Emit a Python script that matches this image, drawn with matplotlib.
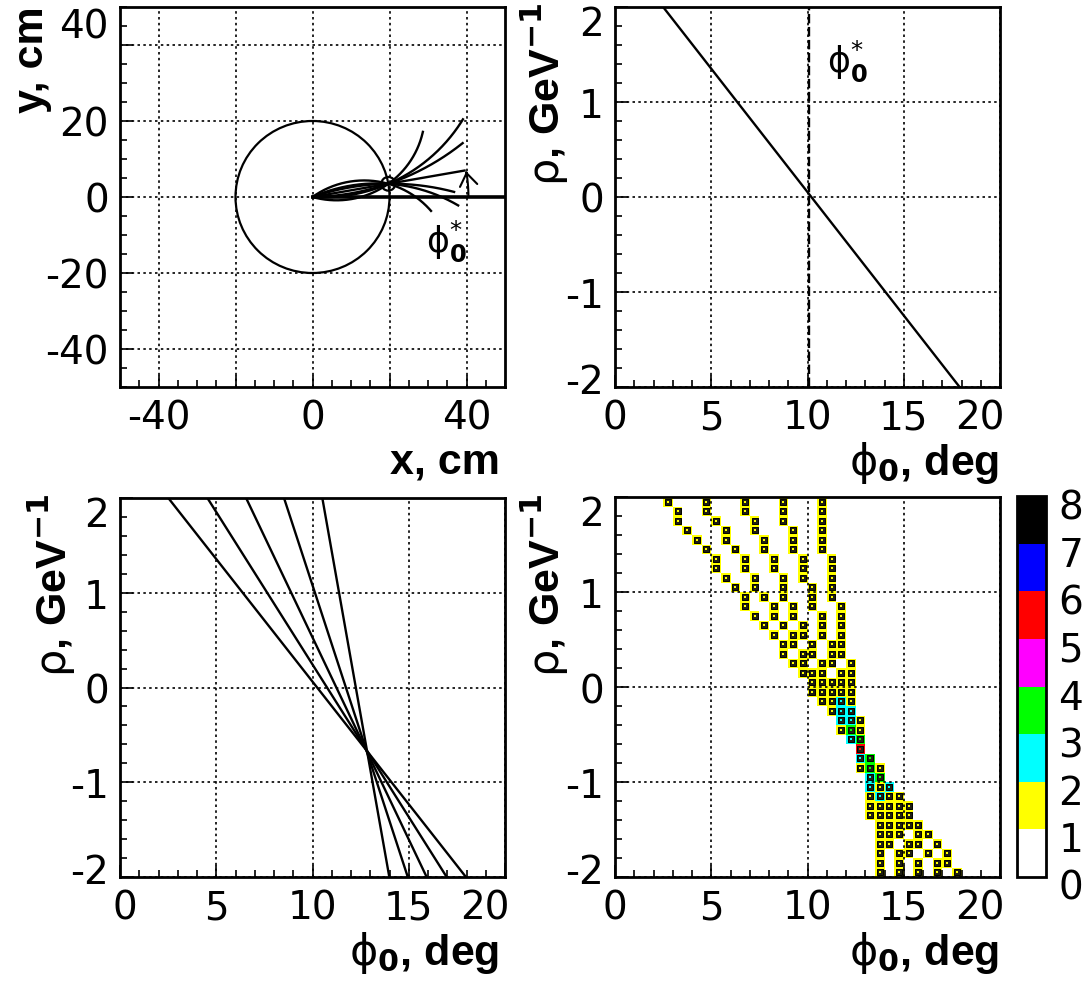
import numpy as np
import matplotlib
matplotlib.use("Agg")
import matplotlib.pyplot as plt
from matplotlib.colors import ListedColormap, BoundaryNorm
from matplotlib.transforms import ScaledTranslation
from matplotlib.patches import Circle, FancyArrowPatch
from matplotlib.path import Path

# ------------------------------------------------------------------ data
# top-left: tracks crossing a single hit on the detector layer
hit_radius = 20.0            # cm
hit_phi = 10.0               # deg (phi0*)
track_curvature = [0.0436, 0.0235, 0.0157, 0.0, -0.0160, -0.0243, -0.0438]   # 1/cm
track_end_radius = [33.4, 44.1, 41.5, 40.1, 36.8, 37.9, 31.0]                # cm

# top-right: Hough line of that hit
tr_rho = [2.0, -2.0]
tr_phi0 = [2.5, 17.9]
tr_phi_star = 10.1

# bottom-left: Hough lines of five hits
bl_phi0_top = [2.51, 4.54, 6.55, 8.52, 10.51]          # at rho = +2
bl_phi0_bottom = [17.97, 16.97, 15.93, 14.95, 13.99]   # at rho = -2
bl_rho_ends = [2.0, -2.0]

# bottom-right: Hough accumulator; for each rho row (top row first) the
# phi0-bin indices that were filled (a repeated index = several entries)
phi0_edges = np.linspace(0, 20, 41)
rho_edges = np.linspace(-2, 2, 41)
hough_rows = [
    [5, 9, 13, 17, 21], [6, 9, 13, 17, 21], [6, 10, 14, 17, 21], [7, 11, 14, 18, 21],
    [8, 11, 15, 18, 21], [9, 12, 15, 18, 21], [10, 13, 16, 19, 22], [10, 13, 16, 19, 22],
    [11, 14, 17, 19, 22], [12, 14, 17, 20, 22], [13, 15, 17, 20, 22], [13, 16, 18, 20, 23],
    [14, 16, 18, 21, 23], [15, 17, 19, 21, 23], [16, 18, 19, 21, 23], [17, 18, 20, 22, 23],
    [17, 19, 20, 22, 23], [18, 19, 21, 22, 24], [19, 20, 21, 23, 24], [20, 21, 22, 23, 24],
    [20, 21, 22, 23, 24], [21, 22, 23, 23, 24], [22, 23, 23, 24, 24], [23, 23, 24, 24, 25],
    [23, 24, 24, 24, 25], [24, 24, 25, 25, 25], [25, 25, 25, 25, 25], [25, 25, 26, 26, 26],
    [25, 26, 26, 26, 27], [26, 26, 27, 27, 27], [26, 26, 27, 28, 28], [26, 27, 27, 28, 29],
    [26, 27, 28, 29, 30], [26, 27, 28, 29, 30], [27, 28, 29, 30, 31], [27, 28, 29, 31, 32],
    [27, 28, 30, 31, 33], [27, 29, 30, 32, 34], [27, 29, 31, 33, 34], [27, 29, 31, 33, 35],
]
count_levels = list(range(9))
level_colors = ["white", "#ffff00", "#00ffff", "#00ff00", "#ff00ff", "#ff0000", "#0000ff", "black"]

# ------------------------------------------------------------------ figure
W, H = 1091, 987
plt.rcParams["font.family"] = ["DejaVu Sans"]
plt.rcParams["mathtext.fontset"] = "dejavusans"
plt.rcParams["axes.unicode_minus"] = False
fig = plt.figure(figsize=(W / 100, H / 100), dpi=100)

def box(x0, y0, x1, y1):
    return [x0 / W, 1 - y1 / H, (x1 - x0) / W, (y1 - y0) / H]

def shift(label, dx, dy):
    label.set_transform(label.get_transform() + ScaledTranslation(dx / 100, -dy / 100, fig.dpi_scale_trans))

TICK_FS = 28
grid_ls = (0, (1.5, 2.0))

def style(ax, xmaj, xmin, ymaj, ymin):
    ax.set_xticks(xmaj)
    ax.set_xticks(xmin, minor=True)
    ax.set_yticks(ymaj)
    ax.set_yticks(ymin, minor=True)
    ax.tick_params(which="both", direction="in", top=False, right=False,
                   labelsize=TICK_FS, pad=8, width=1.2, color="black")
    ax.tick_params(which="major", length=9)
    ax.tick_params(which="minor", length=5)
    ax.grid(True, which="major", color="black", linestyle=grid_ls, lw=1.2)
    ax.set_axisbelow(False)
    for sp in ax.spines.values():
        sp.set_linewidth(2.0)

LABEL_KW = dict(fontsize=31, fontweight="bold", family=["Liberation Sans", "DejaVu Sans"])
RHO_LABEL = r"$\mathrm{\rho}$, GeV$^{\mathbf{-1}}$"
PHI_LABEL = r"$\mathrm{\phi}_{\mathbf{0}}$, deg"
STAR_LABEL = r"$\mathrm{\phi}_{\mathbf{0}}^{*}$"

# ---------------- top-left
ax1 = fig.add_axes(box(120, 8, 505, 388))
ax1.set_xlim(-50, 50)
ax1.set_ylim(-50, 50)
style(ax1, [-40, -20, 0, 20, 40], np.arange(-50, 51, 5), [-40, -20, 0, 20, 40], np.arange(-50, 51, 5))
ax1.set_xticklabels(["-40", "", "0", "", "40"])
ax1.set_yticklabels(["-40", "-20", "0", "20", "40"])

ax1.add_patch(Circle((0, 0), hit_radius, fill=False, lw=1.6, color="black", zorder=3))
phs = np.radians(hit_phi)
hx, hy = hit_radius * np.cos(phs), hit_radius * np.sin(phs)
for k, r_end in zip(track_curvature, track_end_radius):
    if k == 0:
        s = np.linspace(0, r_end, 50)
        x, y = s * np.cos(phs), s * np.sin(phs)
    else:
        p0 = phs - np.arcsin(k * hit_radius / 2)
        s_end = 2 / k * np.arcsin(k * r_end / 2)
        s = np.linspace(0, s_end, 400)
        x = (np.sin(p0 + k * s) - np.sin(p0)) / k
        y = (np.cos(p0) - np.cos(p0 + k * s)) / k
    ax1.plot(x, y, color="black", lw=1.7, zorder=3)
ax1.add_patch(Circle((hx, hy), 1.8, fill=False, lw=1.6, color="black", zorder=3))
ax1.plot([0, 50], [0, 0], color="black", lw=2.6, zorder=3)
ang = np.linspace(0, phs * 0.96, 30)
arc = Path(np.column_stack([40.5 * np.cos(ang), 40.5 * np.sin(ang)]))
ax1.add_patch(FancyArrowPatch(path=arc, arrowstyle="->,head_width=0.35,head_length=0.5",
                              mutation_scale=18, lw=1.5, color="black", zorder=4))
ax1.text(34.7, -11.3, STAR_LABEL, fontsize=25, ha="center", va="center")

# ---------------- top-right
ax2 = fig.add_axes(box(615, 8, 1000, 388))
ax2.set_xlim(0, 20)
ax2.set_ylim(-2, 2)
style(ax2, [0, 5, 10, 15, 20], np.arange(0, 21, 1), [-2, -1, 0, 1, 2], np.arange(-2, 2.01, 0.2))
ax2.plot(tr_phi0, tr_rho, color="black", lw=1.7, zorder=3)
ax2.axvline(tr_phi_star, color="black", lw=1.7, linestyle=(0, (4, 1.5)), zorder=3)
ax2.text(12.05, 1.44, STAR_LABEL, fontsize=25, ha="center", va="center")

# ---------------- bottom-left
ax3 = fig.add_axes(box(120, 499, 505, 878))
ax3.set_xlim(0, 20)
ax3.set_ylim(-2, 2)
style(ax3, [0, 5, 10, 15, 20], np.arange(0, 21, 1), [-2, -1, 0, 1, 2], np.arange(-2, 2.01, 0.2))
for pt, pb in zip(bl_phi0_top, bl_phi0_bottom):
    ax3.plot([pt, pb], bl_rho_ends, color="black", lw=1.7, zorder=3)

# ---------------- bottom-right
ax4 = fig.add_axes(box(615, 498, 1000, 878))
ax4.set_xlim(0, 20)
ax4.set_ylim(-2, 2)
style(ax4, [0, 5, 10, 15, 20], np.arange(0, 21, 1), [-2, -1, 0, 1, 2], np.arange(-2, 2.01, 0.2))
nrow = len(rho_edges) - 1
counts = np.zeros((nrow, len(phi0_edges) - 1))
for i, row in enumerate(hough_rows):
    for j in row:
        counts[nrow - 1 - i, j] += 1
cmap = ListedColormap(level_colors)
norm = BoundaryNorm(count_levels, cmap.N)
mesh = ax4.pcolormesh(phi0_edges, rho_edges, np.ma.masked_equal(counts, 0),
                      cmap=cmap, norm=norm, zorder=1)
ri, ci = np.nonzero(counts)
xc = (phi0_edges[ci] + phi0_edges[ci + 1]) / 2
yc = (rho_edges[ri] + rho_edges[ri + 1]) / 2
vals = counts[ri, ci]
ax4.scatter(xc, yc, marker="s", s=24, facecolor="#1e1e12", edgecolor="black", lw=0.7, zorder=1.5)
ax4.scatter(xc, yc, marker="s", s=2.0, c=[cmap(norm(v)) for v in vals], lw=0, zorder=1.6)

cax = fig.add_axes(box(1017, 497, 1046, 878))
cb = fig.colorbar(mesh, cax=cax, ticks=count_levels)
cb.outline.set_linewidth(2.0)
cax.tick_params(length=0, labelsize=TICK_FS, pad=9)

# ---------------- axis titles
def rot_label(text, xc_px, ytop_px):
    fig.text(xc_px / W, 1 - ytop_px / H, text, rotation=90, ha="center", va="top", **LABEL_KW)

def x_label(text, xr_px, yc_px):
    fig.text(xr_px / W, 1 - yc_px / H, text, ha="right", va="center", **LABEL_KW)

rot_label("y, cm", 32, 6)
x_label("x, cm", 500, 462)
rot_label(RHO_LABEL, 545, 2)
x_label(PHI_LABEL, 999, 463)
rot_label(RHO_LABEL, 52, 493)
x_label(PHI_LABEL, 499, 953)
rot_label(RHO_LABEL, 545, 493)
x_label(PHI_LABEL, 999, 953)

# ---------------- ROOT-like tick-label placement at the axis ends
fig.canvas.draw()
shift(ax1.get_yticklabels()[-1], 0, -22)
for ax in (ax2, ax3, ax4):
    yl = ax.get_yticklabels()
    shift(yl[-1], 0, 13)
    shift(yl[0], 0, -9)
    xl = ax.get_xticklabels()
    shift(xl[-1], -20, 0)
shift(ax3.get_xticklabels()[0], 5, 0)
for lab in cax.get_yticklabels():
    shift(lab, 0, 7)

fig.savefig("out.png", dpi=100)
